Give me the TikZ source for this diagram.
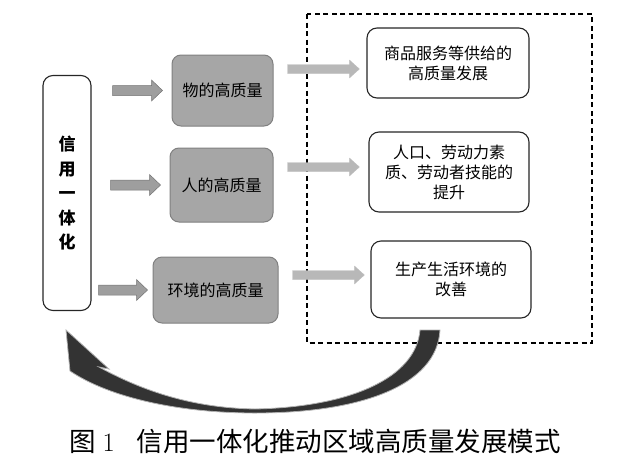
\documentclass[tikz,border=0pt]{standalone}
\usepackage{fontspec}
\newfontfamily\cjk{Noto Sans CJK SC}
\usetikzlibrary{calc}

\tikzset{
  blockarrow/.style n args={3}{to path={
      let \p1=(\tikztostart), \p2=(\tikztotarget) in
      (\x1,{\y1+#1pt}) -- ({\x2-#3pt},{\y1+#1pt}) -- ({\x2-#3pt},{\y1+#2pt})
      -- (\x2,\y1) -- ({\x2-#3pt},{\y1-#2pt}) -- ({\x2-#3pt},{\y1-#1pt})
      -- (\x1,{\y1-#1pt}) -- cycle}},
  larrow/.style={draw=black!55, fill=black!38, line width=.5pt, blockarrow={5}{10.5}{11}},
  rarrow/.style={draw=black!25, fill=black!28, line width=.3pt, blockarrow={4.5}{9}{10}},
}

\begin{document}
\begin{tikzpicture}[x=1pt, y=-1pt,
    every node/.style={font=\cjk\fontsize{16}{20}\selectfont, align=center, inner sep=0pt},
    gbox/.style={draw=black!50, fill=black!35, rounded corners=9pt, line width=1pt},
    wbox/.style={draw=black!85, fill=white, rounded corners=10pt, line width=1.1pt}]
        \useasboundingbox (0,0) rectangle (631,466);

        % left column
        \node[wbox, minimum width=48pt, minimum height=235pt,
              font=\cjk\bfseries\fontsize{17}{24.5}\selectfont] (L) at (67,193) {信\\用\\一\\体\\化};

        % middle column
        \node[gbox, minimum width=101pt, minimum height=71pt] (G1) at (222.5,90.5) {物的高质量};
        \node[gbox, minimum width=103pt, minimum height=74pt] (G2) at (221.5,185) {人的高质量};
        \node[gbox, minimum width=125pt, minimum height=66pt] (G3) at (215.5,290) {环境的高质量};

        % right column
        \draw[dashed, dash pattern=on 5pt off 3.5pt, line width=1.2pt] (307,14) rectangle (592,343);
        \node[wbox, minimum width=162pt, minimum height=70pt] (RA) at (448,63) {商品服务等供给的\\高质量发展};
        \node[wbox, minimum width=160pt, minimum height=80pt] (RB) at (449,172) {人口、劳动力素\\质、劳动者技能的\\提升};
        \node[wbox, minimum width=160pt, minimum height=77pt] (RC) at (451,279.5) {生产生活环境的\\改善};

        \draw[larrow] ([xshift=21pt]L.east |- G1.west) to ([xshift=-9pt]G1.west);
        \draw[larrow] ([xshift=19pt]L.east |- G2.west) to ([xshift=-9pt]G2.west);
        \draw[larrow] ([xshift=7pt]L.east |- G3.west) to ([xshift=-5pt]G3.west);

        \draw[rarrow] ($(G1.east |- RA.west)+(14,6)$) to ($(RA.west)+(-7,6)$);
        \draw[rarrow] ($(G2.east |- RB.west)+(14,-5)$) to ($(RB.west)+(-9,-5)$);
        \draw[rarrow] ($(G3.east |- RC.west)+(14,-4.5)$) to ($(RC.west)+(-6,-4.5)$);

        % feedback arrow
        \draw[draw=black!30, fill=black!80, line width=.8pt]
          (66,330) -- (109,369) -- (99,367)
          .. controls (150,395) and (200,408) .. (255,409)
          .. controls (350,407) and (416,378) .. (420,330)
          -- (440,330)
          .. controls (437,386) and (360,413) .. (255,413)
          .. controls (180,413) and (110,398) .. (70,371) -- cycle;

        \node[font=\fontsize{26.5}{30}\selectfont] (cap) at (315,441)
          {{\cjk 图}\hspace{7pt}1\hspace{22pt}{\cjk 信用一体化推动区域高质量发展模式}};
      \end{tikzpicture}
\end{document}
